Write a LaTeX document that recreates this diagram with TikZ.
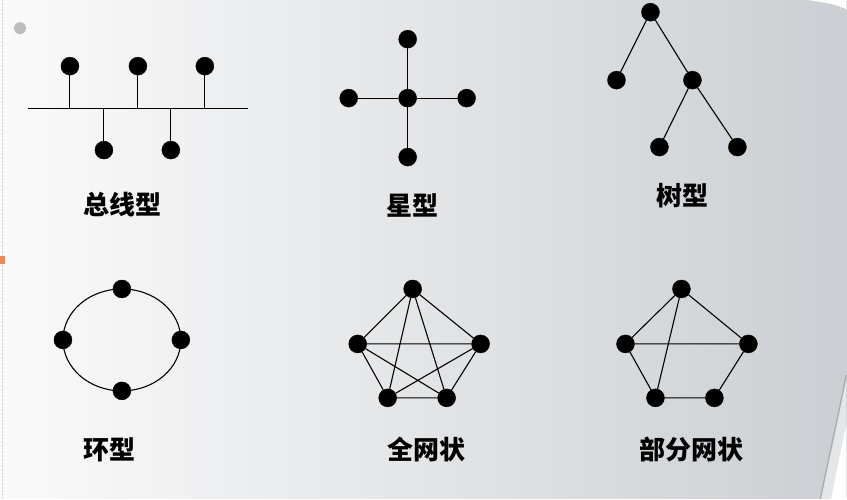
\documentclass[tikz,border=0pt]{standalone}
\usepackage{fontspec}
\usepackage{xcolor}
\usepackage{tikz}
\usetikzlibrary{calc}
\newfontfamily\cjk{Noto Sans CJK SC}
\definecolor{bgleft}{HTML}{FAFAFA}
\definecolor{bgright}{HTML}{CBCFD3}
\definecolor{curl}{HTML}{E4E6E8}
\definecolor{curledge}{HTML}{A9ADB2}
\definecolor{ink}{HTML}{000000}
\definecolor{bullet}{HTML}{BDBDBD}
\definecolor{tabmark}{HTML}{EE8A5A}
\definecolor{guide}{HTML}{E3C8CC}
\tikzset{
  nd/.style={circle, fill=ink, draw=ink, inner sep=0pt, minimum size=18pt},
  ln/.style={draw=ink, line width=1.1pt},
  lbl/.style={font=\cjk\bfseries\fontsize{26}{26}\selectfont, text=ink}
}
\newcommand{\TopoLabel}[3]{% name,x/y,text
  \node[lbl] (#1) at (#2) {#3};
}

\begin{document}
\begin{tikzpicture}[x=1pt,y=-1pt]
  % page background
  \shade[left color=bgleft, right color=bgright] (0,0) rectangle (847,499);
  \fill[white] (810,0) -- (847,0) -- (847,9) .. controls (835,4) .. cycle;
  \fill[curl] (847,375) .. controls (838,420) and (828,465) .. (821,499) -- (847,499) -- cycle;
  \fill[white] (847,425) .. controls (842,450) and (836,475) .. (832,499) -- (847,499) -- cycle;
  \draw[curledge, line width=1.4pt] (847,375) .. controls (838,420) and (828,465) .. (821,499);
  \draw[guide, densely dotted] (2,0) -- (2,499);
  \fill[tabmark] (0,256) rectangle (5,264);
  \fill[bullet] (20,28) circle (6pt);

  % bus
  \coordinate (busL) at (28,108);
  \coordinate (busR) at (248,108);
  \draw[ln] (busL) -- (busR);
  \node[nd] (b1) at (70,66) {};
  \node[nd] (b2) at (138,66) {};
  \node[nd] (b3) at (205,66) {};
  \node[nd] (b4) at (104,150) {};
  \node[nd] (b5) at (171,150) {};
  \draw[ln] (b1) -- (b1 |- busL) (b2) -- (b2 |- busL) (b3) -- (b3 |- busL)
            (b4) -- (b4 |- busL) (b5) -- (b5 |- busL);
  \TopoLabel{busLabel}{123,205}{总线型}

  % star
  \node[nd] (s0) at (408,98) {};
  \node[nd] (s1) at (408,39) {};
  \node[nd] (s2) at (349,98) {};
  \node[nd] (s3) at (467,98) {};
  \node[nd] (s4) at (408,157) {};
  \draw[ln] (s0) -- (s1) (s0) -- (s2) (s0) -- (s3) (s0) -- (s4);
  \TopoLabel{starLabel}{413,205}{星型}

  % tree
  \node[nd] (t0) at (651,12) {};
  \node[nd] (t1) at (617,80) {};
  \node[nd] (t2) at (693,80) {};
  \node[nd] (t3) at (660,147) {};
  \node[nd] (t4) at (738,147) {};
  \draw[ln] (t0) -- (t1) (t0) -- (t2) (t2) -- (t3) (t2) -- (t4);
  \TopoLabel{treeLabel}{683,196}{树型}

  % ring
  \draw[ln] (122,340) ellipse [x radius=59, y radius=51];
  \node[nd] (r1) at (122,289) {};
  \node[nd] (r2) at (63,340) {};
  \node[nd] (r3) at (181,340) {};
  \node[nd] (r4) at (122,391) {};
  \TopoLabel{ringLabel}{110,450}{环型}

  % full mesh
  \node[nd] (f1) at (413,289) {};
  \node[nd] (f2) at (358,344) {};
  \node[nd] (f3) at (481,344) {};
  \node[nd] (f4) at (388,398) {};
  \node[nd] (f5) at (447,398) {};
  \draw[ln] (f1) -- (f2) (f1) -- (f3) (f1) -- (f4) (f1) -- (f5)
            (f2) -- (f3) (f2) -- (f4) (f2) -- (f5)
            (f3) -- (f4) (f3) -- (f5) (f4) -- (f5);
  \TopoLabel{fullLabel}{427,450}{全网状}

  % partial mesh
  \node[nd] (p1) at (682,289) {};
  \node[nd] (p2) at (626,344) {};
  \node[nd] (p3) at (749,344) {};
  \node[nd] (p4) at (656,398) {};
  \node[nd] (p5) at (715,398) {};
  \draw[ln] (p1) -- (p2) (p1) -- (p3) (p1) -- (p4)
            (p2) -- (p3) (p2) -- (p4) (p4) -- (p5) (p5) -- (p3);
  \TopoLabel{partLabel}{692,450}{部分网状}
\end{tikzpicture}
\end{document}
